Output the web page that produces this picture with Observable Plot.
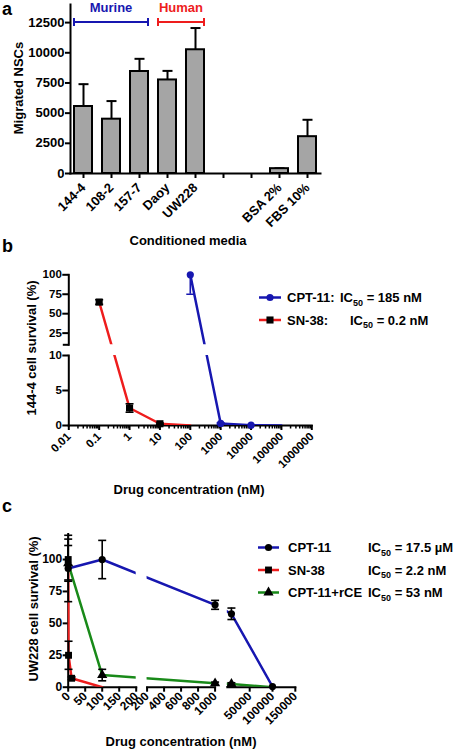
<!DOCTYPE html>
<html>
<head>
<meta charset="utf-8">
<script src="https://cdn.jsdelivr.net/npm/d3@7"></script>
<script src="https://cdn.jsdelivr.net/npm/@observablehq/plot@0.6"></script>
<style>
  html, body { margin: 0; padding: 0; background: #fff; }
  #fig { position: relative; width: 453px; height: 750px; overflow: hidden; background: #fff; }
  #fig > svg { position: absolute; left: 0; top: 0; overflow: visible; }
</style>
</head>
<body>
<div id="fig"></div>
<script>
// ---------------- DATA ----------------
// Panel a: NSC migration toward conditioned media
const mediaLabels   = ["144-4", "108-2", "157-7", "Daoy", "UW228", "", "", "BSA 2%", "FBS 10%"];
const migratedNSCs  = [5550, 4500, 8450, 7750, 10250, null, null, 400, 3050];
const migratedSEM   = [1850, 1500, 1050, 750, 1800, null, null, 30, 1400];
const migratedTicks = [0, 2500, 5000, 7500, 10000, 12500];
const mediaGroups   = [{name: "Murine", first: "144-4", last: "157-7"}, {name: "Human", first: "Daoy", last: "UW228"}];

// Panel b: 144-4 survival (log concentration)
const bSeries      = ["CPT-11", "SN-38"];
const bIC50        = ["185 nM", "0.2 nM"];
const bCPT11Conc   = [100, 1000, 10000, 100000];
const bCPT11Surv   = [100, 0.3, 0.05, 0];
const bCPT11Err    = [25, 0.1, 0, 0];
const bSN38Conc    = [0.1, 1, 10, 100];
const bSN38Surv    = [65, 2.5, 0.25, 0];
const bSN38Err     = [3, 0.6, 0.1, 0];
const bXTicks      = [0.01, 0.1, 1, 10, 100, 1000, 10000, 100000, 1000000];
const bYTicksLow   = [0, 5, 10];
const bYTicksHigh  = [25, 50, 75, 100];
const bBreak       = 10;

// Panel c: UW228 survival (segmented linear concentration)
const cSeries      = ["CPT-11", "SN-38", "CPT-11+rCE"];
const cIC50        = ["17.5 \u00b5M", "2.2 nM", "53 nM"];
const cCPT11Conc   = [0, 100, 1000, 10000, 100000];
const cCPT11Surv   = [93, 100, 64.5, 57.5, 0.5];
const cCPT11Err    = [26, 15, 3.5, 4.5, 0];
const cSN38Conc    = [0, 1, 10, 100];
const cSN38Surv    = [100, 25, 7, 0];
const cSN38Err     = [16, 11, 1, 0];
const cRCEConc     = [0, 100, 1000, 10000, 100000];
const cRCESurv     = [97, 9.5, 3, 2.5, 0];
const cRCEErr      = [14, 4.5, 1, 1, 0];
const cSegDomains  = [[0, 200], [200, 1000], [1000, 150000]];
const cXTicks      = [[0, 50, 100, 150, 200], [200, 400, 600, 800, 1000], [50000, 100000, 150000]];
const cYTicks      = [0, 25, 50, 75, 100];

// ---------------- STYLE / LAYOUT ----------------
const W = 453, H = 750;
const FONT = '"Liberation Sans", Arial, Helvetica, sans-serif';
const BLUE = "#1717b0", RED = "#ee1d1d", GREEN = "#198a19", BAR = "#a5a5a5";
const AX = 2; // axis stroke width
const style = size => ({background: "transparent", overflow: "visible", fontFamily: FONT, fontWeight: "bold", fontSize: size, color: "#000"});
const capSymbol = hw => ({draw(ctx) { ctx.moveTo(-hw, 0); ctx.lineTo(hw, 0); }});
const downTick = len => ({draw(ctx) { ctx.moveTo(0, 0); ctx.lineTo(0, len); }});
const leftTick = len => ({draw(ctx) { ctx.moveTo(0, 0); ctx.lineTo(-len, 0); }});
const fig = document.getElementById("fig");

// ---------------- PANEL A ----------------
const aRows = mediaLabels.map((label, i) => ({i, label, mean: migratedNSCs[i], sem: migratedSEM[i]})).filter(d => d.mean != null);
const plotA = Plot.plot({
  width: W, height: H,
  marginLeft: 70, marginRight: W - 320, marginTop: 4, marginBottom: H - 173,
  style: style("13px"),
  x: {type: "band", domain: d3.range(mediaLabels.length), paddingInner: 0.36, paddingOuter: 0.11, label: null},
  y: {domain: [0, 14000], label: null},
  marks: [
    Plot.axisX({tickFormat: i => mediaLabels[i], tickRotate: -45, tickSize: 5, tickPadding: 7, strokeWidth: AX, label: null}),
    Plot.axisY({ticks: migratedTicks, tickFormat: d => String(d), tickSize: 5, tickPadding: 1, strokeWidth: AX, label: null}),
    Plot.ruleX(aRows, {x: "i", y1: "mean", y2: d => d.mean + d.sem, stroke: "#000", strokeWidth: 2}),
    Plot.dot(aRows, {x: "i", y: d => d.mean + d.sem, symbol: capSymbol(5), fill: "none", stroke: "#000", strokeWidth: 2}),
    Plot.barY(aRows, {x: "i", y: "mean", fill: BAR, stroke: "#000", strokeWidth: 2}),
    Plot.frame({anchor: "left", strokeWidth: AX}),
    Plot.frame({anchor: "bottom", strokeWidth: AX})
  ]
});
fig.append(plotA);

// ---------------- PANEL B ----------------
const GAP_B = 10.7 / 70;
const bPos = v => v <= bBreak ? v / bBreak : 1 + GAP_B + (v - bBreak) / (100 - bBreak);
const bStyle = {
  "CPT-11": {line: BLUE, symbol: "circle", r: 3.6, fill: BLUE, err: BLUE},
  "SN-38": {line: RED, symbol: "square", r: 4, fill: "#000", err: "#000"}
};
const bRows = [
  ...bCPT11Conc.map((c, i) => ({series: "CPT-11", conc: c, surv: bCPT11Surv[i], err: bCPT11Err[i]})),
  ...bSN38Conc.map((c, i) => ({series: "SN-38", conc: c, surv: bSN38Surv[i], err: bSN38Err[i]}))
];
const bMinor = d3.scaleLog().domain([0.01, 1e6]).ticks().filter(v => !bXTicks.some(t => Math.abs(t - v) / t < 1e-9));
function plotB(upper) {
  const inSeg = d => upper ? d.surv > bBreak : d.surv <= bBreak;
  const seriesMarks = bSeries.flatMap(s => {
    const st = bStyle[s];
    const rows = bRows.filter(d => d.series === s);
    const errs = rows.filter(d => d.err > 0);
    return [
      Plot.ruleX(errs, {x: "conc", y1: d => bPos(d.surv - d.err), y2: d => bPos(d.surv + d.err), stroke: st.err, strokeWidth: 1.6, clip: true}),
      Plot.dot(errs, {x: "conc", y: d => bPos(d.surv - d.err), symbol: capSymbol(4), fill: "none", stroke: st.err, strokeWidth: 1.6, clip: true}),
      Plot.dot(errs, {x: "conc", y: d => bPos(d.surv + d.err), symbol: capSymbol(4), fill: "none", stroke: st.err, strokeWidth: 1.6, clip: true}),
      Plot.dot(rows.filter(d => d.surv > 0 && inSeg(d)), {x: "conc", y: d => bPos(d.surv), symbol: st.symbol, r: st.r, fill: st.fill, stroke: "none"})
    ];
  });
  const yTicks = upper ? bYTicksHigh : bYTicksLow;
  return Plot.plot({
    width: W, height: H,
    marginLeft: 68.3, marginRight: W - 311.3,
    marginTop: upper ? 274.3 : 355, marginBottom: upper ? H - 344.3 : H - 425,
    style: style("11.5px"),
    color: {domain: bSeries, range: bSeries.map(s => bStyle[s].line)},
    x: {type: "log", domain: [0.01, 1e6], label: null, axis: upper ? null : undefined},
    y: {domain: upper ? [1 + GAP_B, 2 + GAP_B] : [0, 1], label: null},
    marks: [
      upper ? null : Plot.axisX({ticks: bXTicks, tickFormat: d => String(d), tickRotate: -45, tickSize: 5, tickPadding: 4, strokeWidth: AX, label: null}),
      upper ? null : Plot.dot(bMinor, {x: d => d, y: 0, symbol: downTick(3), fill: "none", stroke: "#000", strokeWidth: 1.5}),
      upper ? null : Plot.frame({anchor: "bottom", strokeWidth: AX}),
      Plot.axisY({ticks: yTicks.map(bPos), tickFormat: (d, i) => String(yTicks[i]), tickSize: 6, tickPadding: 1, strokeWidth: AX, label: null}),
      upper ? Plot.dot([bBreak], {x: () => 0.01, y: v => bPos(v) + GAP_B, symbol: leftTick(6), fill: "none", stroke: "#000", strokeWidth: AX}) : null,
      Plot.frame({anchor: "left", strokeWidth: AX}),
      Plot.line(bRows, {x: "conc", y: d => bPos(d.surv), z: "series", stroke: "series", strokeWidth: 2.5, clip: true}),
      ...seriesMarks
    ]
  });
}
fig.append(plotB(true));
fig.append(plotB(false));

// ---------------- PANEL C ----------------
const C_LEFT = 67.7, C_LEN = 68;
const cOffsets = [0, 1.16, 2.34];
const cSegOf = v => { for (let k = 0; k < cSegDomains.length; k++) if (v <= cSegDomains[k][1]) return k; return cSegDomains.length - 1; };
const cPosIn = (k, v) => { const [a, b] = cSegDomains[k]; return cOffsets[k] + (v - a) / (b - a); };
const cPos = v => cPosIn(cSegOf(v), v);
const cStyle = {
  "CPT-11": {line: BLUE, symbol: "circle", r: 3.6},
  "SN-38": {line: RED, symbol: "square", r: 3.9},
  "CPT-11+rCE": {line: GREEN, symbol: "triangle", r: 3.8}
};
const cRows = [
  ...cCPT11Conc.map((c, i) => ({series: "CPT-11", conc: c, surv: cCPT11Surv[i], err: cCPT11Err[i]})),
  ...cSN38Conc.map((c, i) => ({series: "SN-38", conc: c, surv: cSN38Surv[i], err: cSN38Err[i]})),
  ...cRCEConc.map((c, i) => ({series: "CPT-11+rCE", conc: c, surv: cRCESurv[i], err: cRCEErr[i]}))
];
function plotC(k) {
  const seg = cRows.filter(d => cSegOf(d.conc) === k);
  const errs = seg.filter(d => d.err > 0);
  const left = C_LEFT + cOffsets[k] * C_LEN;
  return Plot.plot({
    width: W, height: H,
    marginLeft: left, marginRight: W - (left + C_LEN),
    marginTop: 533.5, marginBottom: H - 686.7,
    style: style("12px"),
    color: {domain: cSeries, range: cSeries.map(s => cStyle[s].line)},
    x: {domain: [cOffsets[k], cOffsets[k] + 1], label: null},
    y: {domain: [0, 120], label: null, axis: k === 0 ? undefined : null},
    marks: [
      Plot.axisX({ticks: cXTicks[k].map(v => cPosIn(k, v)), tickFormat: (d, i) => String(cXTicks[k][i]), tickRotate: -45,
        tickSize: 5, tickPadding: 2, strokeWidth: AX, label: null}),
      Plot.frame({anchor: "bottom", strokeWidth: AX}),
      k === 0 ? Plot.axisY({ticks: cYTicks, tickFormat: d => String(d), tickSize: 5, tickPadding: 1, strokeWidth: AX, label: null}) : null,
      k === 0 ? Plot.frame({anchor: "left", strokeWidth: AX}) : null,
      Plot.line(cRows, {x: d => cPos(d.conc), y: "surv", z: "series", stroke: "series", strokeWidth: 2.5, clip: true}),
      Plot.ruleX(errs, {x: d => cPos(d.conc), y1: d => d.surv - d.err, y2: d => d.surv + d.err, stroke: "#000", strokeWidth: 1.6}),
      Plot.dot(errs, {x: d => cPos(d.conc), y: d => d.surv - d.err, symbol: capSymbol(4), fill: "none", stroke: "#000", strokeWidth: 1.6}),
      Plot.dot(errs, {x: d => cPos(d.conc), y: d => d.surv + d.err, symbol: capSymbol(4), fill: "none", stroke: "#000", strokeWidth: 1.6}),
      ...cSeries.map(s => Plot.dot(seg.filter(d => d.series === s && d.surv > 0),
        {x: d => cPos(d.conc), y: "surv", symbol: cStyle[s].symbol, r: cStyle[s].r, fill: "#000", stroke: "none"}))
    ]
  });
}
cSegDomains.forEach((_, k) => fig.append(plotC(k)));

// ---------------- TEXT, BRACKETS, LEGENDS ----------------
const ov = d3.select(fig).append("svg").attr("width", W).attr("height", H)
  .attr("font-family", FONT).attr("font-weight", "bold").attr("fill", "#000");

// panel letters
[["a", 2, 15], ["b", 2, 252], ["c", 2, 512]].forEach(([t, x, y]) =>
  ov.append("text").attr("x", x).attr("y", y).attr("font-size", 18).text(t));

// axis titles
const title = (t, x, y, rot) => ov.append("text").attr("font-size", 13).attr("text-anchor", "middle")
  .attr("dy", "0.35em").attr("transform", `translate(${x},${y})` + (rot ? " rotate(-90)" : "")).text(t);
title("Migrated NSCs", 18, 88, true);
title("Conditioned media", 188, 240, false);
title("144-4 cell survival (%)", 31, 348, true);
title("Drug concentration (nM)", 189, 489, false);
title("UW228 cell survival (%)", 33, 609, true);
title("Drug concentration (nM)", 181, 741, false);

// panel a group brackets
const ax = plotA.scale("x"), ay = plotA.scale("y");
const groupColor = {Murine: BLUE, Human: RED};
mediaGroups.forEach(g => {
  const x1 = ax.apply(mediaLabels.indexOf(g.first));
  const x2 = ax.apply(mediaLabels.indexOf(g.last)) + ax.bandwidth;
  const y = ay.apply(12500);
  const c = groupColor[g.name];
  const gg = ov.append("g").attr("stroke", c).attr("stroke-width", 2);
  gg.append("line").attr("x1", x1).attr("x2", x2).attr("y1", y).attr("y2", y);
  gg.append("line").attr("x1", x1).attr("x2", x1).attr("y1", y - 4).attr("y2", y + 4);
  gg.append("line").attr("x1", x2).attr("x2", x2).attr("y1", y - 4).attr("y2", y + 4);
  ov.append("text").attr("x", (x1 + x2) / 2).attr("y", y - 10).attr("text-anchor", "middle")
    .attr("font-size", 13).attr("fill", c).text(g.name);
});

// legends
const symType = {circle: d3.symbolCircle, square: d3.symbolSquare, triangle: d3.symbolTriangle};
function legendRow({y, color, symbol, r, fill, name, ic, nameX, icX, lx1, lx2}) {
  ov.append("line").attr("x1", lx1).attr("x2", lx2).attr("y1", y).attr("y2", y).attr("stroke", color).attr("stroke-width", 2.5);
  ov.append("path").attr("transform", `translate(${(lx1 + lx2) / 2},${y})`)
    .attr("d", d3.symbol().type(symType[symbol]).size(r * r * Math.PI)()).attr("fill", fill);
  ov.append("text").attr("x", nameX).attr("y", y + 4.5).attr("font-size", 13).text(name);
  const t = ov.append("text").attr("x", icX).attr("y", y + 4.5).attr("font-size", 13);
  t.append("tspan").text("IC");
  t.append("tspan").attr("font-size", 9).attr("dy", 3.5).text("50");
  t.append("tspan").attr("dy", -3.5).text(" = " + ic);
}
bSeries.forEach((s, i) => legendRow({y: 297.5 + i * 22.5, color: bStyle[s].line, symbol: bStyle[s].symbol, r: bStyle[s].r,
  fill: bStyle[s].fill, name: s + ":", ic: bIC50[i], nameX: 287, icX: [340, 350][i], lx1: 259, lx2: 281}));
cSeries.forEach((s, i) => legendRow({y: 547.5 + i * 22.5, color: cStyle[s].line, symbol: cStyle[s].symbol, r: cStyle[s].r,
  fill: "#000", name: s, ic: cIC50[i], nameX: 288, icX: 368, lx1: 258, lx2: 279}));
</script>
</body>
</html>
